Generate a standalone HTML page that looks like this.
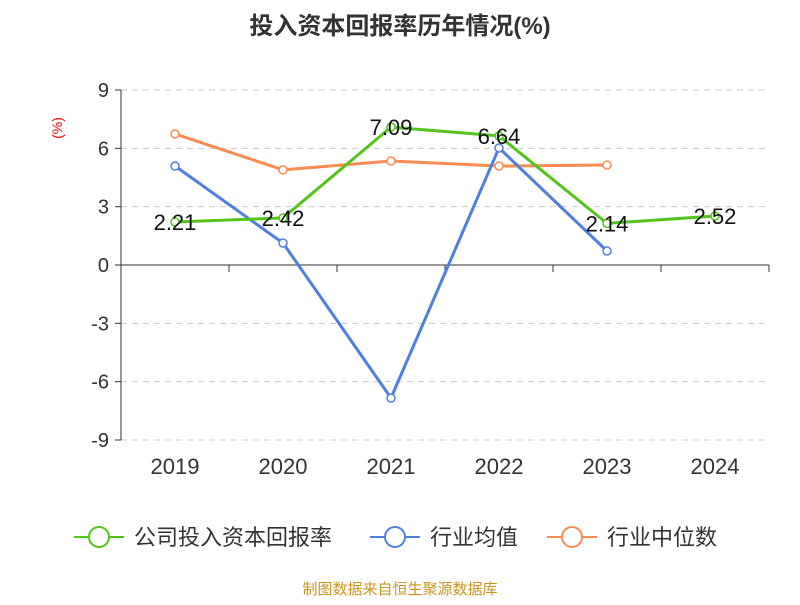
<!DOCTYPE html>
<html><head><meta charset="utf-8"><style>
body{margin:0;background:#fff;font-family:"Liberation Sans","Noto Sans CJK SC",sans-serif}
</style></head><body>
<svg width="800" height="600" style="font-family:'Liberation Sans','Noto Sans CJK SC',sans-serif">
<text x="400" y="34" text-anchor="middle" font-size="24" font-weight="bold" fill="#333">投入资本回报率历年情况(%)</text>
<text x="62" y="128" font-size="14" fill="#e00" transform="rotate(-90 62 128)" text-anchor="middle">(%)</text>
<g id="grid"></g><g id="axes"></g><g id="series"></g>
<g>
<g><line x1="74" y1="537" x2="124" y2="537" stroke="#52c41a" stroke-width="2"/><circle cx="99" cy="537" r="10" fill="#fff" stroke="#52c41a" stroke-width="2"/><text x="134" y="545" font-size="22" fill="#333">公司投入资本回报率</text></g>
<g><line x1="370" y1="537" x2="420" y2="537" stroke="#4e7fe0" stroke-width="2"/><circle cx="395" cy="537" r="10" fill="#fff" stroke="#4e7fe0" stroke-width="2"/><text x="430" y="545" font-size="22" fill="#333">行业均值</text></g>
<g><line x1="547" y1="537" x2="597" y2="537" stroke="#fa8c50" stroke-width="2"/><circle cx="572" cy="537" r="10" fill="#fff" stroke="#fa8c50" stroke-width="2"/><text x="607" y="545" font-size="22" fill="#333">行业中位数</text></g>
</g>
<text x="400" y="594" text-anchor="middle" font-size="15" fill="#c8961e">制图数据来自恒生聚源数据库</text>
</svg>
<script>
const categories=["2019","2020","2021","2022","2023","2024"];
const yTicks=[9,6,3,0,-3,-6,-9];
const company=[2.21,2.42,7.09,6.64,2.14,2.52];
const industryAvg=[5.09,1.13,-6.84,6.02,0.72,null];
const industryMedian=[6.74,4.89,5.35,5.09,5.14,null];
const NS="http://www.w3.org/2000/svg";
const L=121,R=769,T=90,B=440;
const band=(R-L)/categories.length;
const x=i=>L+band*(i+0.5);
const y=v=>T+(9-v)/18*(B-T);
function mk(tag,attrs,parent){const e=document.createElementNS(NS,tag);for(const k in attrs)e.setAttribute(k,attrs[k]);document.getElementById(parent).appendChild(e);return e;}
yTicks.forEach(t=>{
 if(t!==0){const g=mk('line',{x1:L,x2:R,y1:y(t),y2:y(t),stroke:'#ccc','stroke-dasharray':'6,5'},'grid');
 
 }
 const tk=mk('line',{x1:L-6,x2:L,y1:y(t),y2:y(t),stroke:'#333'},'axes');
 
 
 const lb=mk('text',{x:L-12,y:y(t)+7,'text-anchor':'end','font-size':20,fill:'#333'},'axes');lb.textContent=t;
 
 
});
const ya=mk('line',{x1:L,x2:L,y1:T,y2:B,stroke:'#333'},'axes');


const xa=mk('line',{x1:L,x2:R,y1:y(0),y2:y(0),stroke:'#333'},'axes');


for(let i=0;i<=categories.length;i++){const tk=mk('line',{x1:L+band*i,x2:L+band*i,y1:y(0),y2:y(0)+7,stroke:'#333'},'axes');
 
 }
categories.forEach((c,i)=>{const t=mk('text',{x:x(i),y:474,'text-anchor':'middle','font-size':22,fill:'#333'},'axes');t.textContent=c;
 
 });
function series(data,color,name,labels){
 let d='';data.forEach((v,i)=>{if(v==null)return;d+=(d?'L':'M')+x(i)+','+y(v);});
 const p=mk('path',{d:d,fill:'none',stroke:color,'stroke-width':3},'series');
 
 
 data.forEach((v,i)=>{if(v==null)return;
  const c=mk('circle',{cx:x(i),cy:y(v),r:4,fill:'#fff',stroke:color,'stroke-width':1.5},'series');
  
  
  if(labels){const t=mk('text',{x:x(i),y:y(v)+8,'text-anchor':'middle','font-size':22,fill:'#111'},'series');t.textContent=v.toFixed(2);
   
   }
 });
}
series(industryMedian,'#fa8c50','industry-median',false);
series(industryAvg,'#4e7fe0','industry-avg',false);
series(company,'#52c41a','company',true);
</script>
</body></html>
